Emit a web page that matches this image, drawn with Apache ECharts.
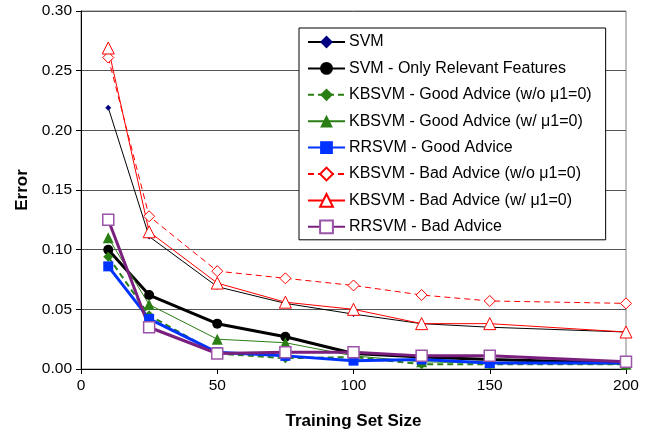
<!DOCTYPE html>
<html><head><meta charset="utf-8">
<script src="https://cdn.jsdelivr.net/npm/echarts@6/dist/echarts.min.js"></script>
<style>html,body{margin:0;padding:0;background:#fff}#c{width:651px;height:432px}</style>
</head><body><div id="c"></div>
<script>
const sizes = [10, 25, 50, 75, 100, 125, 150, 200];
const svm = [0.219, 0.111, 0.069, 0.055, 0.046, 0.038, 0.035, 0.031];
const svmRelevant = [0.100, 0.062, 0.038, 0.027, 0.013, 0.010, 0.008, 0.005];
const kbGoodWo = [0.094, 0.045, 0.013, 0.009, 0.010, 0.004, 0.004, 0.004];
const kbGoodW = [0.110, 0.054, 0.025, 0.022, 0.011, 0.006, 0.005, 0.004];
const rrGood = [0.086, 0.042, 0.014, 0.011, 0.007, 0.008, 0.005, 0.005];
const kbBadWo = [0.261, 0.128, 0.082, 0.076, 0.070, 0.062, 0.057, 0.055];
const kbBadW = [0.269, 0.115, 0.072, 0.056, 0.050, 0.038, 0.038, 0.031];
const rrBad = [0.125, 0.035, 0.013, 0.014, 0.014, 0.011, 0.011, 0.006];
const yTicks = ['0.00','0.05','0.10','0.15','0.20','0.25','0.30'];
const xTicks = ['0','50','100','150','200'];

const pair = arr => sizes.map((s, i) => [s, arr[i]]);
const font = 'Liberation Sans, Arial, sans-serif';
function S(name, data, o) {
  return Object.assign({
    name, type: 'line', data: pair(data), animation: false,
    symbolKeepAspect: true
  }, o);
}
const series = [
  S('SVM', svm, {symbol: 'diamond', symbolSize: 6, lineStyle: {color: '#000', width: 1}, itemStyle: {color: '#000080'}}),
  S('SVM - Only Relevant Features', svmRelevant, {symbol: 'circle', symbolSize: 10, lineStyle: {color: '#000', width: 3}, itemStyle: {color: '#000'}}),
  S('KBSVM - Good Advice (w/o μ1=0)', kbGoodWo, {symbol: 'diamond', symbolSize: 10, lineStyle: {color: '#2a7f14', width: 2, type: [6, 4]}, itemStyle: {color: '#2a7f14'}}),
  S('KBSVM - Good Advice (w/ μ1=0)', kbGoodW, {symbol: 'triangle', symbolSize: 11, lineStyle: {color: '#2a7f14', width: 1}, itemStyle: {color: '#2a7f14'}}),
  S('RRSVM - Good Advice', rrGood, {symbol: 'rect', symbolSize: 10, lineStyle: {color: '#0033ff', width: 3}, itemStyle: {color: '#0033ff'}}),
  S('KBSVM - Bad Advice (w/o μ1=0)', kbBadWo, {symbol: 'diamond', symbolSize: 11, lineStyle: {color: '#ff0000', width: 1, type: [6, 4]}, itemStyle: {color: '#fff', borderColor: '#ff0000', borderWidth: 1}}),
  S('KBSVM - Bad Advice (w/ μ1=0)', kbBadW, {symbol: 'triangle', symbolSize: 12, lineStyle: {color: '#ff0000', width: 1}, itemStyle: {color: '#fff', borderColor: '#ff0000', borderWidth: 1}}),
  S('RRSVM - Bad Advice', rrBad, {symbol: 'rect', symbolSize: 11, lineStyle: {color: '#7b1f7f', width: 3}, itemStyle: {color: '#fff', borderColor: '#9a55a8', borderWidth: 1.5}})
];

const chart = echarts.init(document.getElementById('c'), null, {renderer: 'canvas'});
chart.setOption({
  backgroundColor: '#fff',
  textStyle: {fontFamily: font},
  grid: {left: 81, right: 25, top: 11, bottom: 63, show: true, borderColor: '#808080', borderWidth: 1,
    backgroundColor: '#fff', containLabel: false, outerBoundsMode: 'none'},
  legend: {
    orient: 'vertical', left: 299, top: 28,
    backgroundColor: '#fff', borderColor: '#000', borderWidth: 1,
    padding: [6, 14, 5, 8], itemGap: 10.4, itemWidth: 37, itemHeight: 16,
    textStyle: {fontFamily: font, fontSize: 16, color: '#000', padding: [0, 0, 0, -1]},
    data: series.map(s => s.name)
  },
  xAxis: {
    type: 'value', min: 0, max: 200, interval: 50,
    name: 'Training Set Size', nameLocation: 'middle', nameGap: 44,
    nameTextStyle: {fontFamily: font, fontSize: 17, fontWeight: 'bold', color: '#000'},
    axisLine: {lineStyle: {color: '#000', width: 1}},
    axisTick: {show: true, length: 5, lineStyle: {color: '#000'}},
    axisLabel: {fontFamily: font, fontSize: 15.5, color: '#000', margin: 9,
      formatter: v => xTicks[xTicks.indexOf(String(v))] || String(v)},
    splitLine: {show: false}
  },
  yAxis: {
    type: 'value', min: 0, max: 0.3, interval: 0.05,
    name: 'Error', nameLocation: 'middle', nameGap: 48, nameRotate: 90,
    nameTextStyle: {fontFamily: font, fontSize: 17, fontWeight: 'bold', color: '#000'},
    axisLine: {show: true, lineStyle: {color: '#000', width: 1}},
    axisTick: {show: true, length: 5, lineStyle: {color: '#000'}},
    axisLabel: {fontFamily: font, fontSize: 15.5, color: '#000', margin: 9,
      formatter: v => yTicks[Math.round(v / 0.05)]},
    splitLine: {show: true, lineStyle: {color: '#555', width: 1}}
  },
  series
});
</script></body></html>
